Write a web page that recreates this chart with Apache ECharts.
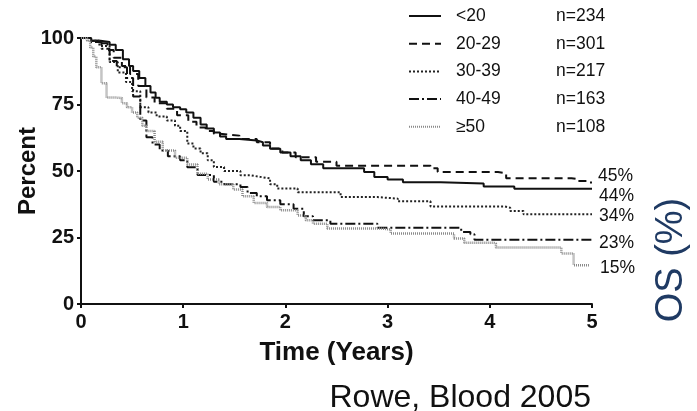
<!DOCTYPE html>
<html><head><meta charset="utf-8">
<script src="https://cdn.jsdelivr.net/npm/echarts@6/dist/echarts.min.js"></script>
<style>html,body{margin:0;padding:0;background:#fff}#c{width:697px;height:411px}</style>
</head><body><div id="c"></div>
<script>
// ---- data ----
const groups = ['<20', '20-29', '30-39', '40-49', '≥50'];
const counts = ['n=234', 'n=301', 'n=217', 'n=163', 'n=108'];
const endPct = ['44%', '45%', '34%', '23%', '15%'];
const xTicks = [0, 1, 2, 3, 4, 5];
const yTicks = [0, 25, 50, 75, 100];

const t_lt20 = [0,0.1,0.19,0.28,0.34,0.41,0.47,0.51,0.57,0.63,0.68,0.73,0.77,0.84,0.9,0.97,1.03,1.1,1.17,1.23,1.3,1.36,1.42,1.55,1.72,1.78,1.85,1.95,2.05,2.15,2.25,2.37,2.77,2.87,3.0,3.15,3.52,3.94,4.24,5.0];
const s_lt20 = [100,99,98.5,97.5,95.5,92,89.5,87.6,85,82,79.5,77.5,76,75,74,73.2,72,70,67.5,66,64.5,63,62,61.5,60.8,59.6,58.4,57,55.5,54,52.5,51,49.6,47.7,46.8,45.8,45.3,44.2,43.3,43.3];

const t_20 = [0,0.1,0.19,0.26,0.32,0.4,0.48,0.56,0.64,0.72,0.84,0.94,1.05,1.13,1.22,1.3,1.36,1.55,1.72,1.85,1.97,2.1,2.3,2.5,3.42,3.49,4.08,4.16,4.8,4.86,4.99];
const s_20 = [100,99,98,95.5,92.6,89.5,86.5,82,77.6,75.5,73.4,71,68.5,66.4,65,64,63.3,62,60.8,58.5,57,55.2,53.5,52,51,49.6,49.2,47.3,47,46.2,45.3];

const t_30 = [0,0.09,0.18,0.28,0.36,0.44,0.5,0.58,0.66,0.74,0.84,0.92,0.97,1.04,1.1,1.17,1.24,1.3,1.4,1.56,1.66,1.75,1.85,1.92,2.12,2.54,2.9,3.1,3.42,4.14,4.2,4.33,5.0];
const s_30 = [100,99,97,91,87,83.5,80,74,72,70.5,69,67,65,60.3,58.5,56.7,54,51.5,50,48.4,47.8,47.2,45,43.4,42,40.2,39.6,38.6,36.7,36.2,35,33.7,33.7];

const t_40 = [0,0.1,0.2,0.28,0.35,0.45,0.51,0.58,0.64,0.7,0.77,0.85,0.97,1.04,1.14,1.3,1.4,1.56,1.63,1.72,1.82,1.95,2.08,2.18,2.27,2.44,2.77,2.9,3.69,3.72,3.81,3.85,5.0];
const s_40 = [100,98.5,96,91.4,89,85,78,69,62.7,60,57.7,55.5,54,51.4,48.5,46,45,44,41.7,40.5,39,37.5,35.8,33,31.5,30.2,30.2,28.7,28.7,27.1,26.2,24.2,24.2];

const t_50 = [0,0.06,0.09,0.12,0.15,0.2,0.25,0.35,0.4,0.45,0.5,0.55,0.6,0.64,0.72,0.8,0.92,1.04,1.14,1.24,1.35,1.49,1.58,1.69,1.82,1.95,2.12,2.2,2.27,2.41,2.93,3.03,3.65,3.75,4.04,4.06,4.7,4.82,4.97];
const s_50 = [100,99,96.4,93,89,83,77.6,77.4,75.5,74,72,70,67,65,61,57.7,55,52.4,49,46.8,45,43,40.5,38,36.5,35.2,33.3,31.5,30.2,28.4,28,26.5,24.6,23,22.7,21.2,19,14.6,14.6];

const times = [t_lt20, t_20, t_30, t_40, t_50];
const surv = [s_lt20, s_20, s_30, s_40, s_50];

// ---- styles ----
const FONT = 'Liberation Sans, Arial, Helvetica, sans-serif';
const lineStyles = [
  { color: '#111', width: 2, type: 'solid' },
  { color: '#111', width: 2, type: [8, 5] },
  { color: '#222', width: 2, type: [2, 2] },
  { color: '#111', width: 2, type: [10, 3, 2, 3] },
  { color: '#8a8a8a', width: 2.5, type: [1, 1] }
];
const labelOffsets = [[0, 7], [0, -7.5], [0, 2], [0, 4], [0, 3]];
const labelDist = [7, 7, 7, 7, 11];

const series = groups.map((g, i) => ({
  name: g,
  type: 'line',
  step: 'end',
  symbol: 'none',
  data: times[i].map((t, j) => [t, surv[i][j]]),
  lineStyle: lineStyles[i],
  itemStyle: { color: lineStyles[i].color },
  emphasis: { disabled: true },
  animation: false,
  endLabel: {
    show: true,
    formatter: endPct[i],
    color: '#111',
    fontFamily: FONT,
    fontSize: 17.5,
    distance: labelDist[i],
    offset: labelOffsets[i]
  }
}));

const chart = echarts.init(document.getElementById('c'), null, { renderer: 'canvas' });
chart.setOption({
  animation: false,
  backgroundColor: '#fff',
  grid: { left: 81, right: 105, top: 38, bottom: 107, containLabel: false, outerBoundsMode: 'none' },
  legend: {
    orient: 'vertical',
    left: 408,
    top: 6,
    padding: 0,
    itemWidth: 32,
    itemHeight: 14,
    itemGap: 7.7,
    selectedMode: false,
    itemStyle: { opacity: 0 },
    data: groups,
    formatter: name => `{a|${name}}{b|${counts[groups.indexOf(name)]}}`,
    textStyle: {
      fontFamily: FONT, fontSize: 17.5, color: '#111', lineHeight: 20,
      rich: {
        a: { width: 100, padding: [0, 0, 0, 10], fontFamily: FONT, fontSize: 17.5, color: '#111' },
        b: { fontFamily: FONT, fontSize: 17.5, color: '#111' }
      }
    }
  },
  xAxis: {
    type: 'value', min: xTicks[0], max: xTicks[xTicks.length - 1], interval: 1,
    name: 'Time (Years)', nameLocation: 'middle', nameGap: 36, nameMoveOverlap: false,
    nameTextStyle: { fontFamily: FONT, fontWeight: 'bold', fontSize: 26, color: '#111' },
    axisLine: { lineStyle: { color: '#111', width: 2 } },
    axisTick: { show: true, length: 4, lineStyle: { color: '#111', width: 2 } },
    axisLabel: { fontFamily: FONT, fontWeight: 'bold', fontSize: 20, color: '#111', margin: 8 },
    splitLine: { show: false }
  },
  yAxis: {
    type: 'value', min: yTicks[0], max: yTicks[yTicks.length - 1], interval: 25,
    name: 'Percent', nameLocation: 'middle', nameGap: 41, nameRotate: 90, nameMoveOverlap: false,
    nameTextStyle: { fontFamily: FONT, fontWeight: 'bold', fontSize: 24, color: '#111' },
    axisLine: { show: true, lineStyle: { color: '#111', width: 2 } },
    axisTick: { show: true, length: 4, lineStyle: { color: '#111', width: 2 } },
    axisLabel: { fontFamily: FONT, fontWeight: 'bold', fontSize: 20, color: '#111', margin: 7 },
    splitLine: { show: false }
  },
  graphic: [
    {
      type: 'text', right: 106, top: 382,
      style: { text: 'Rowe, Blood 2005', fontFamily: FONT, fontSize: 32, fill: '#111' }
    },
    {
      type: 'text', x: 672, y: 260, rotation: Math.PI / 2,
      style: { text: 'OS (%)', fontFamily: FONT, fontSize: 38, fill: '#1f3a63', align: 'center', verticalAlign: 'middle' }
    }
  ],
  series: series
});
</script>
</body></html>
